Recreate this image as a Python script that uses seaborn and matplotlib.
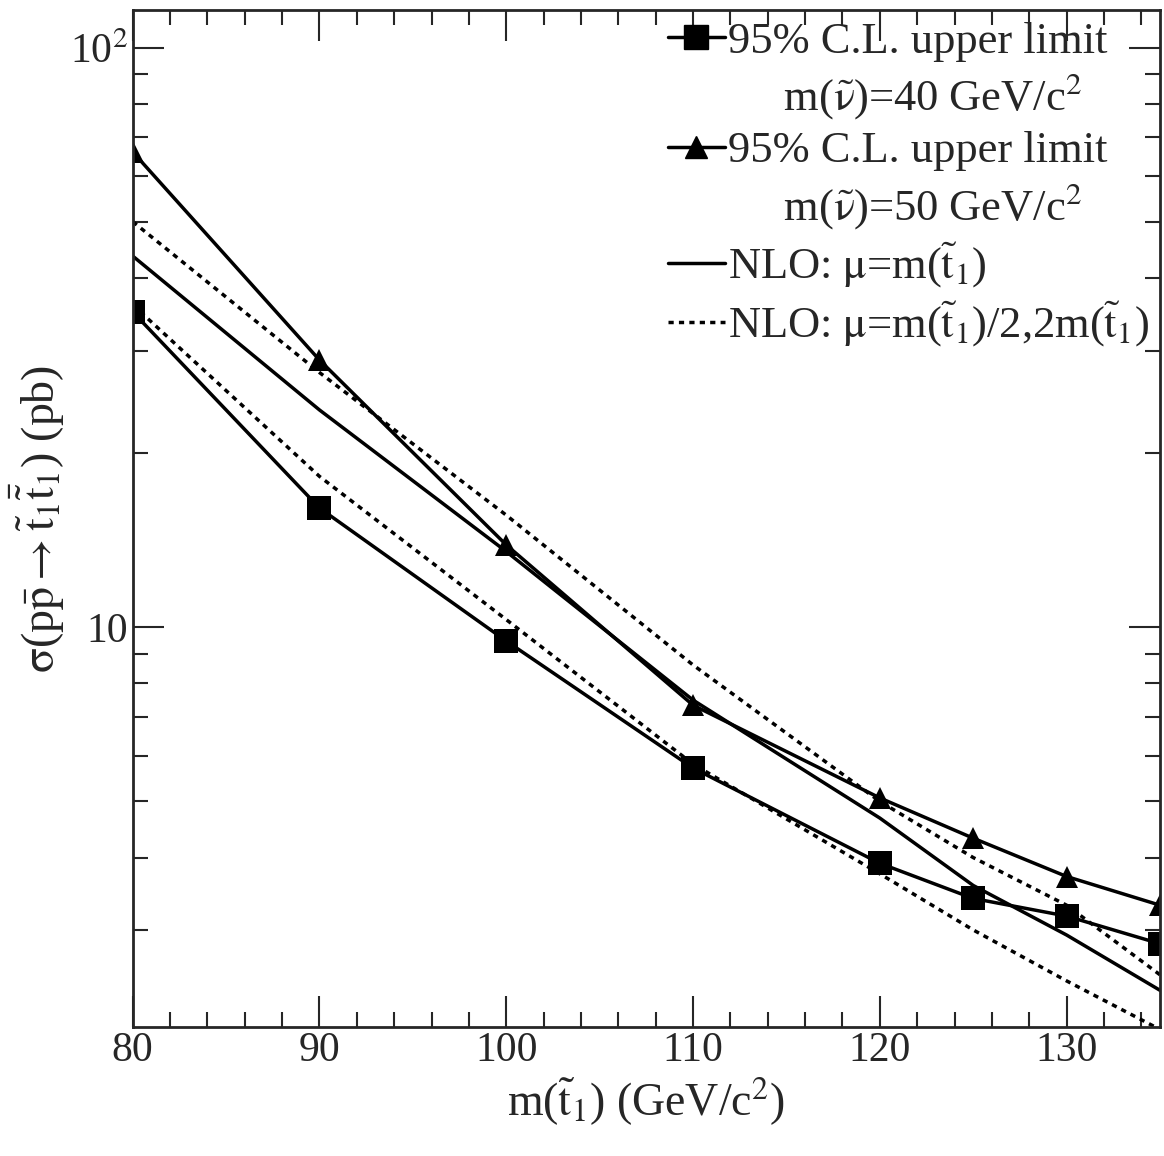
import matplotlib
matplotlib.use("Agg")
import matplotlib.pyplot as plt
import seaborn as sns
import pandas as pd
from matplotlib.lines import Line2D
from matplotlib.ticker import MultipleLocator, LogLocator, NullFormatter

mass = [80, 90, 100, 110, 120, 125, 130, 135]
limit_40 = [35.0, 16.05, 9.46, 5.71, 3.91, 3.40, 3.17, 2.84]
limit_50 = [66.1, 28.9, 13.86, 7.33, 5.07, 4.32, 3.71, 3.31]
nlo_central = [43.7, 23.7, 13.5, 7.48, 4.68, 3.58, 2.94, 2.36]
nlo_half = [50.1, 27.5, 15.6, 8.6, 5.0, 4.0, 3.31, 2.51]
nlo_double = [36.0, 18.2, 10.3, 5.8, 3.75, 3.0, 2.45, 2.02]

sns.set_theme(style="ticks")
plt.rcParams['font.family'] = ['Liberation Serif', 'DejaVu Serif']
plt.rcParams['mathtext.fontset'] = 'stix'

fig = plt.figure(figsize=(11.64, 11.56), dpi=100)
ax = fig.add_axes([0.114, 0.1116, 0.8826, 0.8794])

df = pd.DataFrame({"m": mass, "l40": limit_40, "l50": limit_50,
                   "c": nlo_central, "h": nlo_half, "d": nlo_double})
dots = (0, (1.5, 1.5))
sns.lineplot(data=df, x="m", y="l40", ax=ax, color="black", lw=2.5,
             marker="s", markersize=17, markeredgewidth=0)
sns.lineplot(data=df, x="m", y="l50", ax=ax, color="black", lw=2.5,
             marker="^", markersize=16, markeredgewidth=0)
sns.lineplot(data=df, x="m", y="c", ax=ax, color="black", lw=2.5)
sns.lineplot(data=df, x="m", y="h", ax=ax, color="black", lw=2.5, linestyle=dots)
sns.lineplot(data=df, x="m", y="d", ax=ax, color="black", lw=2.5, linestyle=dots)

ax.set_yscale("log")
ax.set_xlim(80, 135)
ax.set_ylim(2.04, 116)
ax.xaxis.set_major_locator(MultipleLocator(10))
ax.xaxis.set_minor_locator(MultipleLocator(2))
ax.yaxis.set_minor_locator(LogLocator(base=10, subs=range(2, 10)))
ax.yaxis.set_minor_formatter(NullFormatter())
ax.set_yticks([10, 100], [r"10", r"10$^{2}$"])
ax.tick_params(which="both", direction="in", top=True, right=True, labelsize=30, width=1.5)
ax.tick_params(which="major", length=22)
ax.tick_params(which="minor", length=11)
for s in ax.spines.values():
    s.set_linewidth(2)

ax.set_xlabel(r"m($\tilde{\mathrm{t}}_1$) (GeV/c$^2$)", fontsize=33)
ax.set_ylabel(r"$\mathrm{\sigma}$(p$\bar{\mathrm{p}}$$\rightarrow$$\tilde{\mathrm{t}}_1\bar{\tilde{\mathrm{t}}}_1$) (pb)",
              fontsize=33, labelpad=2)

blank = Line2D([], [], color="none")
handles = [Line2D([], [], color="black", lw=2.5, marker="s", markersize=17),
           blank,
           Line2D([], [], color="black", lw=2.5, marker="^", markersize=16),
           blank,
           Line2D([], [], color="black", lw=2.5),
           Line2D([], [], color="black", lw=2.5, linestyle=dots)]
labels = ["95% C.L. upper limit",
          r"     m($\tilde{\mathrm{\nu}}$)=40 GeV/c$^2$",
          "95% C.L. upper limit",
          r"     m($\tilde{\mathrm{\nu}}$)=50 GeV/c$^2$",
          r"NLO: $\mathrm{\mu}$=m($\tilde{\mathrm{t}}_1$)",
          r"NLO: $\mathrm{\mu}$=m($\tilde{\mathrm{t}}_1$)/2,2m($\tilde{\mathrm{t}}_1$)"]
ax.legend(handles, labels, loc="upper right", frameon=False, fontsize=32,
          handlelength=1.3, handletextpad=0.05, labelspacing=0.22,
          borderaxespad=0.05, borderpad=0.2)

fig.savefig("out.png", dpi=100)
